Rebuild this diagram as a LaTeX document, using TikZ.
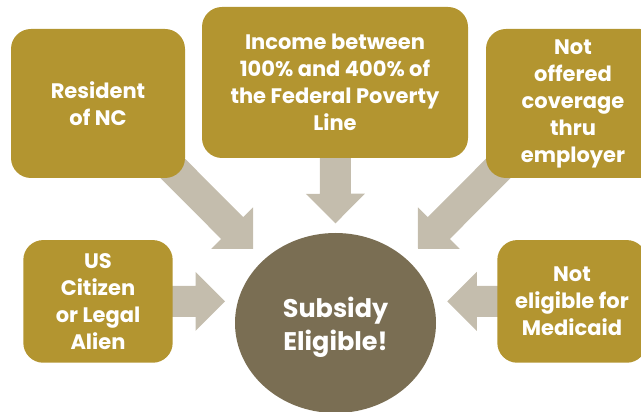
\documentclass[tikz,border=0pt]{standalone}
\usepackage{fontspec}
\setmainfont{Poppins}
\usetikzlibrary{calc,backgrounds,shapes.geometric}
\definecolor{gold}{RGB}{179,149,48}
\definecolor{arrowc}{RGB}{196,189,173}
\definecolor{olive}{RGB}{122,110,83}
\tikzset{
  box/.style={rectangle, rounded corners=20pt, fill=gold, text=white, align=center,
    font=\fontsize{21}{27}\selectfont\bfseries, inner sep=0pt},
  hub/.style={ellipse, fill=olive, text=white, align=center,
    font=\fontsize{25.5}{33}\selectfont\bfseries, inner sep=0pt},
  blockarrowfill/.style={fill=arrowc}
}
\newcommand{\blockarrow}[2]{%
  \fill[blockarrowfill]
    ($(#1)!15.5pt!90:(#2)$) --
    ($($(#2)!29.5pt!(#1)$)!15.5pt!-90:(#1)$) --
    ($($(#2)!29.5pt!(#1)$)!29.5pt!-90:(#1)$) --
    (#2) --
    ($($(#2)!29.5pt!(#1)$)!29.5pt!90:(#1)$) --
    ($($(#2)!29.5pt!(#1)$)!15.5pt!90:(#1)$) --
    ($(#1)!15.5pt!-90:(#2)$) -- cycle;}
\begin{document}
\begin{tikzpicture}[x=1pt,y=1pt]
\useasboundingbox (0,0) rectangle (641,412);
\clip (0,0) rectangle (641,412);
% hub
\node[hub, minimum width=201pt, minimum height=180pt] (sub) at (335.5,89) {};
\node[font=\fontsize{25.5}{33}\selectfont\bfseries, text=white, align=center, inner sep=0pt] (subtxt) at (335.5,85) {Subsidy\\Eligible!};
% boxes
\node[box, minimum width=174pt, minimum height=149pt] (res) at (98,308.5) {Resident\\of NC};
\node[box, minimum width=266pt, minimum height=151pt] (inc) at (335,329.5) {Income between\\100\% and 400\% of\\the Federal Poverty\\Line};
\node[box, minimum width=174pt, minimum height=149pt] (off) at (573,308.5) {Not\\offered\\coverage\\thru\\employer};
\node[box, minimum width=149.4pt, minimum height=122.7pt] (cit) at (98,110.6) {US\\Citizen\\or Legal\\Alien};
\node[box, minimum width=149.4pt, minimum height=122.7pt] (nel) at (572,110.6) {Not\\eligible for\\Medicaid};
% arrow ends
\coordinate (s1) at ($(res.center)+(52,-42)$);
\coordinate (t1) at ($(sub.center)+(-82.5,74)$);
\coordinate (s2) at (inc.center);
\coordinate (t2) at ($(sub.center)+(0,99.7)$);
\coordinate (s3) at ($(off.center)+(-52,-42)$);
\coordinate (t3) at ($(sub.center)+(82.5,74)$);
\coordinate (s4) at (cit.center);
\coordinate (t4) at ($(sub.center)+(-110.5,21.6)$);
\coordinate (s5) at (nel.center);
\coordinate (t5) at ($(sub.center)+(111.8,21.6)$);
\begin{pgfonlayer}{background}
\blockarrow{s1}{t1}
\blockarrow{s2}{t2}
\blockarrow{s3}{t3}
\blockarrow{s4}{t4}
\blockarrow{s5}{t5}
\end{pgfonlayer}
\end{tikzpicture}
\end{document}
